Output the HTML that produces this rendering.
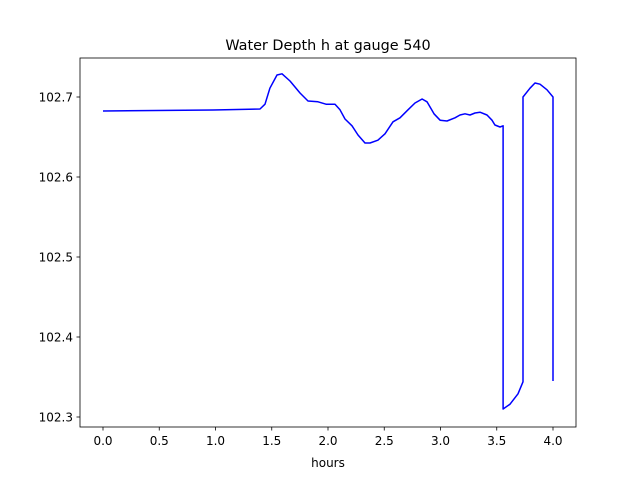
<!DOCTYPE html>
<html><head><meta charset="utf-8"><style>
body{margin:0;background:#fff}
svg{font-family:"DejaVu Sans","Liberation Sans",sans-serif}
</style></head><body>
<svg id="chart" width="640" height="480" xmlns="http://www.w3.org/2000/svg">
<rect width="640" height="480" fill="#fff"/>
<text x="328" y="50" font-size="14.4" text-anchor="middle">Water Depth h at gauge 540</text>
<g id="xt"></g>
<g id="yt"></g>
<path id="line" fill="none" stroke="#0000ff" stroke-width="1.5" stroke-linejoin="round"/>
<rect x="80" y="58" width="496" height="369" fill="none" stroke="#000" stroke-width="0.8"/>
<text x="328" y="467" font-size="12" text-anchor="middle">hours</text>
</svg>
<script>
const hours=[0,0.978,1.396,1.44,1.484,1.547,1.591,1.662,1.751,1.822,1.911,1.982,2.062,2.107,2.151,2.213,2.267,2.329,2.373,2.444,2.507,2.578,2.64,2.711,2.773,2.836,2.88,2.942,2.996,3.058,3.129,3.173,3.218,3.262,3.307,3.351,3.413,3.458,3.484,3.529,3.556,3.556,3.618,3.689,3.733,3.733,3.796,3.84,3.884,3.947,4.0,4.0];
const depth=[102.6825,102.6838,102.685,102.691,102.711,102.7275,102.729,102.72,102.705,102.695,102.694,102.691,102.691,102.684,102.6725,102.664,102.6525,102.6425,102.6425,102.646,102.654,102.669,102.674,102.684,102.6925,102.6975,102.694,102.679,102.671,102.67,102.674,102.6775,102.679,102.6775,102.68,102.681,102.6775,102.671,102.665,102.6625,102.664,102.31,102.316,102.329,102.344,102.7,102.711,102.7175,102.716,102.709,102.7,102.345];
const xTicks=[0,0.5,1,1.5,2,2.5,3,3.5,4];
const xTickLabels=["0.0","0.5","1.0","1.5","2.0","2.5","3.0","3.5","4.0"];
const yTicks=[102.3,102.4,102.5,102.6,102.7];
const yTickLabels=["102.3","102.4","102.5","102.6","102.7"];
const NS="http://www.w3.org/2000/svg";
const X=v=>103+v*112.5;
const Y=v=>97-(v-102.7)*800;
const xt=document.getElementById('xt'),yt=document.getElementById('yt');
xTicks.forEach((t,i)=>{
 const l=document.createElementNS(NS,'line');
 l.setAttribute('x1',X(t));l.setAttribute('x2',X(t));l.setAttribute('y1',427);l.setAttribute('y2',430.5);
 l.setAttribute('stroke','#000');l.setAttribute('stroke-width','0.8');
 
 
 xt.appendChild(l);
 const s=document.createElementNS(NS,'text');
 s.setAttribute('x',X(t));s.setAttribute('y',445);s.setAttribute('font-size','12');s.setAttribute('text-anchor','middle');
 s.textContent=xTickLabels[i];
 
 
 xt.appendChild(s);
});
yTicks.forEach((t,i)=>{
 const l=document.createElementNS(NS,'line');
 l.setAttribute('x1',76.5);l.setAttribute('x2',80);l.setAttribute('y1',Y(t));l.setAttribute('y2',Y(t));
 l.setAttribute('stroke','#000');l.setAttribute('stroke-width','0.8');
 
 
 yt.appendChild(l);
 const s=document.createElementNS(NS,'text');
 s.setAttribute('x',73);s.setAttribute('y',Y(t)+4.5);s.setAttribute('font-size','12');s.setAttribute('text-anchor','end');
 s.textContent=yTickLabels[i];
 
 
 yt.appendChild(s);
});
document.getElementById('line').setAttribute('d',hours.map((h,i)=>(i?'L':'M')+X(h).toFixed(1)+','+Y(depth[i]).toFixed(1)).join(''));
</script>
</body></html>
